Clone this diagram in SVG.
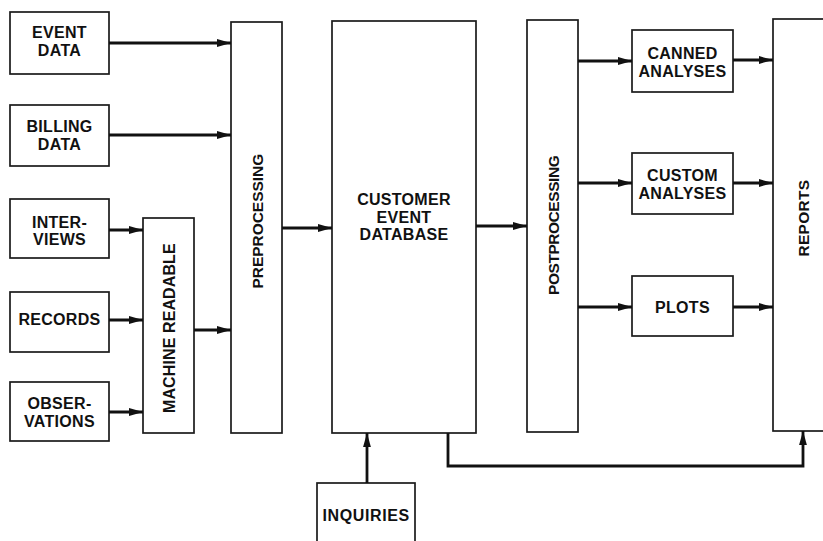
<svg xmlns="http://www.w3.org/2000/svg" width="823" height="541" viewBox="0 0 823 541">
  <style>
    .box { fill: #fff; stroke: #1a1a1a; stroke-width: 1.7; }
    .lbl { font-family: "Liberation Sans", Arial, Helvetica, sans-serif; font-weight: bold; font-size: 16px; letter-spacing: 0.3px; fill: #111; text-anchor: middle; }
    .vl { font-size: 15.5px; }
    .wire { fill: none; stroke: #111; stroke-width: 2.8; }
  </style>
  <defs>
    <marker id="head" markerUnits="userSpaceOnUse" markerWidth="15" markerHeight="9" refX="14" refY="4.5" orient="auto">
      <path d="M0,0.6 L14,4.5 L0,8.4 z" fill="#111"/>
    </marker>
  </defs>
  <rect width="823" height="541" fill="#fff"/>

  <!-- source boxes -->
  <g id="event-data">
    <rect class="box" x="10" y="12" width="99" height="62"/>
    <text class="lbl" x="59.5" y="38">EVENT</text>
    <text class="lbl" x="59.5" y="56">DATA</text>
  </g>
  <g id="billing-data">
    <rect class="box" x="10" y="105" width="99" height="61"/>
    <text class="lbl" x="59.5" y="132">BILLING</text>
    <text class="lbl" x="59.5" y="150">DATA</text>
  </g>
  <g id="interviews">
    <rect class="box" x="10" y="199" width="99" height="59"/>
    <text class="lbl" x="59.5" y="228">INTER-</text>
    <text class="lbl" x="59.5" y="245">VIEWS</text>
  </g>
  <g id="records">
    <rect class="box" x="10" y="292" width="99" height="60"/>
    <text class="lbl" x="59.5" y="325">RECORDS</text>
  </g>
  <g id="observations">
    <rect class="box" x="10" y="382" width="99" height="59"/>
    <text class="lbl" x="59.5" y="409">OBSER-</text>
    <text class="lbl" x="59.5" y="427">VATIONS</text>
  </g>

  <!-- processing columns -->
  <g id="machine-readable">
    <rect class="box" x="143" y="218" width="51" height="215"/>
    <text class="lbl" transform="translate(174.5,328) rotate(-90)" textLength="170" lengthAdjust="spacing">MACHINE READABLE</text>
  </g>
  <g id="preprocessing">
    <rect class="box" x="231" y="22" width="51" height="411"/>
    <text class="lbl vl" transform="translate(262.5,221) rotate(-90)" textLength="135" lengthAdjust="spacing">PREPROCESSING</text>
  </g>
  <g id="customer-event-database">
    <rect class="box" x="332" y="21" width="144" height="412"/>
    <text class="lbl" x="404" y="205">CUSTOMER</text>
    <text class="lbl" x="404" y="223">EVENT</text>
    <text class="lbl" x="404" y="240">DATABASE</text>
  </g>
  <g id="postprocessing">
    <rect class="box" x="527" y="20" width="51" height="412"/>
    <text class="lbl vl" transform="translate(558.5,225) rotate(-90)" textLength="140" lengthAdjust="spacing">POSTPROCESSING</text>
  </g>

  <!-- outputs -->
  <g id="canned-analyses">
    <rect class="box" x="632" y="30" width="101" height="62"/>
    <text class="lbl" x="682.5" y="59">CANNED</text>
    <text class="lbl" x="682.5" y="77">ANALYSES</text>
  </g>
  <g id="custom-analyses">
    <rect class="box" x="632" y="153" width="101" height="61"/>
    <text class="lbl" x="682.5" y="181">CUSTOM</text>
    <text class="lbl" x="682.5" y="199">ANALYSES</text>
  </g>
  <g id="plots">
    <rect class="box" x="632" y="276" width="101" height="60"/>
    <text class="lbl" x="682.5" y="313">PLOTS</text>
  </g>
  <g id="reports">
    <rect class="box" x="773" y="19" width="70" height="412"/>
    <text class="lbl vl" transform="translate(808.5,218) rotate(-90)">REPORTS</text>
  </g>
  <g id="inquiries">
    <rect class="box" x="317" y="483" width="98" height="70"/>
    <text class="lbl" x="366" y="521" textLength="87" lengthAdjust="spacing">INQUIRIES</text>
  </g>

  <!-- connectors -->
  <g id="connectors">
    <line class="wire" x1="109" y1="43" x2="231" y2="43" marker-end="url(#head)"/>
    <line class="wire" x1="109" y1="135" x2="231" y2="135" marker-end="url(#head)"/>
    <line class="wire" x1="109" y1="230" x2="143" y2="230" marker-end="url(#head)"/>
    <line class="wire" x1="109" y1="320" x2="143" y2="320" marker-end="url(#head)"/>
    <line class="wire" x1="109" y1="412" x2="143" y2="412" marker-end="url(#head)"/>
    <line class="wire" x1="194" y1="330" x2="231" y2="330" marker-end="url(#head)"/>
    <line class="wire" x1="282" y1="228" x2="332" y2="228" marker-end="url(#head)"/>
    <line class="wire" x1="476" y1="226" x2="527" y2="226" marker-end="url(#head)"/>
    <line class="wire" x1="578" y1="61" x2="632" y2="61" marker-end="url(#head)"/>
    <line class="wire" x1="578" y1="183" x2="632" y2="183" marker-end="url(#head)"/>
    <line class="wire" x1="578" y1="307" x2="632" y2="307" marker-end="url(#head)"/>
    <line class="wire" x1="733" y1="60" x2="773" y2="60" marker-end="url(#head)"/>
    <line class="wire" x1="733" y1="183" x2="773" y2="183" marker-end="url(#head)"/>
    <line class="wire" x1="733" y1="307" x2="773" y2="307" marker-end="url(#head)"/>
    <line class="wire" x1="367" y1="483" x2="367" y2="433" marker-end="url(#head)"/>
    <polyline class="wire" points="448,433 448,466 803,466 803,431" marker-end="url(#head)"/>
  </g>
</svg>
